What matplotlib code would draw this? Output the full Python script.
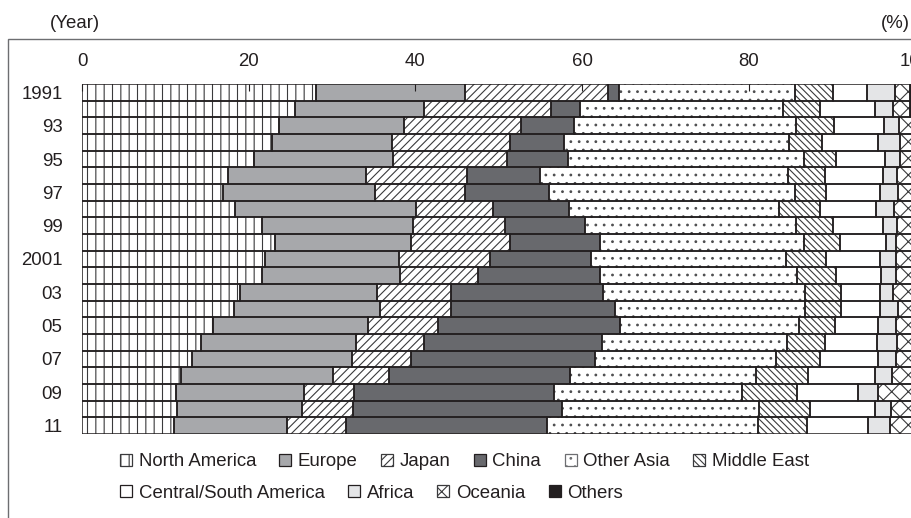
import matplotlib
matplotlib.use("Agg")
import matplotlib.pyplot as plt
import matplotlib.patches as mpatches
import numpy as np

plt.rcParams['font.family'] = ['Liberation Sans', 'DejaVu Sans']
plt.rcParams['hatch.linewidth'] = 0.8

years = ['1991', '', '93', '', '95', '', '97', '', '99', '', '2001', '',
         '03', '', '05', '', '07', '', '09', '', '11']
regions = ['North America', 'Europe', 'Japan', 'China', 'Other Asia', 'Middle East',
           'Central/South America', 'Africa', 'Oceania', 'Others']

north_america = [28.1, 25.6, 23.6, 22.8, 20.6, 17.5, 16.9, 18.4, 21.6, 23.1, 22.0,
                 21.6, 19.0, 18.2, 15.7, 14.3, 13.2, 11.9, 11.3, 11.4, 11.0]
europe = [17.8, 15.4, 15.0, 14.4, 16.7, 16.6, 18.3, 21.7, 18.1, 16.4, 16.0,
          16.6, 16.4, 17.5, 18.6, 18.6, 19.2, 18.2, 15.3, 15.0, 13.6]
japan = [17.2, 15.3, 14.1, 14.2, 13.7, 12.1, 10.8, 9.2, 11.1, 11.9, 11.0,
         9.3, 8.9, 8.6, 8.4, 8.1, 7.1, 6.7, 6.0, 6.1, 7.1]
china = [1.3, 3.4, 6.3, 6.4, 7.3, 8.8, 10.0, 9.1, 9.6, 10.7, 12.1,
         14.7, 18.2, 19.6, 21.8, 21.4, 22.1, 21.7, 24.0, 25.1, 24.1]
other_asia = [21.1, 24.4, 26.7, 27.0, 28.3, 29.7, 29.5, 25.2, 25.3, 24.5, 23.4,
              23.6, 24.2, 22.9, 21.5, 22.2, 21.7, 22.4, 22.6, 23.6, 25.3]
middle_east = [4.6, 4.5, 4.5, 4.0, 3.9, 4.5, 3.8, 5.0, 4.4, 4.4, 4.8,
               4.7, 4.4, 4.3, 4.3, 4.5, 5.3, 6.2, 6.6, 6.1, 5.9]
central_south_america = [4.1, 6.5, 6.0, 6.7, 5.9, 6.9, 6.4, 6.7, 6.0, 5.5, 6.4,
                         5.4, 4.6, 4.6, 5.2, 6.3, 6.9, 8.0, 7.3, 7.8, 7.3]
africa = [3.3, 2.2, 1.8, 2.6, 1.8, 1.7, 2.2, 2.1, 1.7, 1.2, 2.0,
          1.8, 1.6, 2.2, 2.2, 2.4, 2.2, 2.1, 2.4, 2.0, 2.6]
oceania = [1.8, 2.1, 1.6, 1.5, 1.4, 1.8, 1.7, 2.2, 1.8, 1.9, 1.9,
           1.9, 2.3, 1.7, 1.9, 1.8, 1.9, 2.4, 4.1, 2.5, 2.7]
others = [0.7, 0.6, 0.4, 0.4, 0.4, 0.4, 0.4, 0.4, 0.4, 0.4, 0.4,
          0.4, 0.4, 0.4, 0.4, 0.4, 0.4, 0.4, 0.4, 0.4, 0.4]

series = [north_america, europe, japan, china, other_asia, middle_east,
          central_south_america, africa, oceania, others]

INK = '#231f20'
# facecolor, hatch, hatch color
styles = [
    ('white', '||', '#3a3a3c'),
    ('#a7a8ab', None, None),
    ('white', '////', '#3a3a3c'),
    ('#68696d', None, None),
    ('white', '..', '#4d4d4f'),
    ('white', '\\\\\\\\\\', '#3a3a3c'),
    ('white', None, None),
    ('#e4e5e7', None, None),
    ('white', 'xx', '#3a3a3c'),
    (INK, None, None),
]

W, H = 911, 518
fig = plt.figure(figsize=(W / 100, H / 100), dpi=100)
ax = fig.add_axes([82 / W, 1 - 434 / H, (915.5 - 82) / W, 350 / H])

ypos = np.arange(len(years))
left = np.zeros(len(years))
for vals, (fc, hatch, hc) in zip(series, styles):
    vals = np.array(vals)
    if hatch:
        ax.barh(ypos, vals, left=left, height=1.0, color=fc, edgecolor=hc,
                linewidth=0, hatch=hatch, zorder=2)
    else:
        ax.barh(ypos, vals, left=left, height=1.0, color=fc, linewidth=0, zorder=2)
    ax.barh(ypos, vals, left=left, height=1.0, fill=False, edgecolor=INK,
            linewidth=1.1, zorder=3)
    left += vals

ax.set_xlim(0, 100)
ax.set_ylim(len(years) - 0.5, -0.5)
for s in ax.spines.values():
    s.set_visible(False)

ax.xaxis.tick_top()
ax.set_xticks([0, 20, 40, 60, 80, 100])
ax.set_xticklabels(['0', '20', '40', '60', '80', '100'])
ax.tick_params(axis='x', direction='in', length=5, width=0.8, colors=INK,
               labelsize=13.4, pad=10, labelcolor=INK)
for t in ax.xaxis.get_major_ticks():
    t.tick2line.set_zorder(5)
ax.set_axisbelow(False)

ax.set_yticks(ypos)
ax.set_yticklabels(years)
ax.tick_params(axis='y', length=0, pad=14, labelsize=13.4, labelcolor=INK)

# outer frame
fig.add_artist(mpatches.Rectangle((8 / W, -0.1), 1.2, (1 - 39 / H) + 0.1,
                                  transform=fig.transFigure, fill=False,
                                  edgecolor='#6d6e71', linewidth=1.0))

fig.text(50 / W, 1 - 24 / H, '(Year)', fontsize=13.4, color=INK, va='center', ha='left')
fig.text(881 / W, 1 - 23 / H, '(%)', fontsize=13.4, color=INK, va='center', ha='left')

handles = []
for name, (fc, hatch, hc) in zip(regions, styles):
    ec = hc if hc is not None else INK
    if name == 'Other Asia':
        ec = '#6d6e71'
    handles.append(mpatches.Patch(facecolor=fc, edgecolor=ec, hatch=hatch,
                                  linewidth=0.9, label=name))

common = dict(frameon=False, fontsize=13.4, handlelength=0.65, handleheight=0.65,
              handletextpad=0.35, columnspacing=1.25, borderpad=0, borderaxespad=0,
              loc='center left', labelcolor=INK)
leg1 = fig.legend(handles=handles[:6], ncol=6,
                  bbox_to_anchor=(120 / W, 1 - 462 / H), **common)
leg2 = fig.legend(handles=handles[6:], ncol=4,
                  bbox_to_anchor=(120 / W, 1 - 493 / H), **common)

fig.savefig('out.png', dpi=100)
